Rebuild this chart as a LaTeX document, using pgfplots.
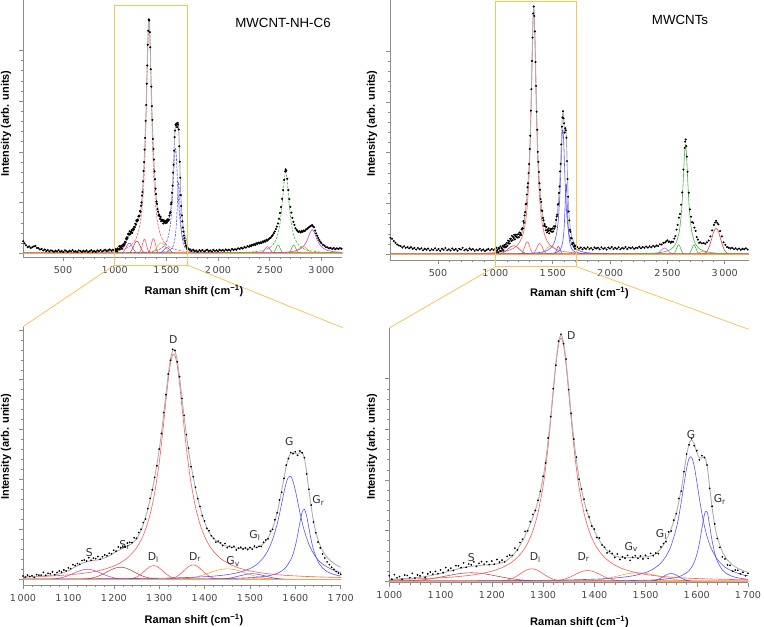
\documentclass[border=0pt]{standalone}
\usepackage{fontspec}
\setmainfont{Liberation Sans}
\newfontfamily\dejavu{DejaVu Sans}
\usepackage{pgfplots}
\usepackage{pgfplotstable}
\pgfplotsset{compat=1.18}

\definecolor{axisc}{RGB}{140,140,140}
\definecolor{tickc}{RGB}{70,70,70}
\definecolor{peakc}{RGB}{50,50,50}
\definecolor{redc}{RGB}{255,90,90}
\definecolor{bluec}{RGB}{85,85,255}
\definecolor{greenc}{RGB}{70,180,70}
\definecolor{orangec}{RGB}{255,165,60}
\definecolor{violetc}{RGB}{185,80,215}
\definecolor{brownc}{RGB}{170,80,80}
\definecolor{magc}{RGB}{230,70,230}
\definecolor{rbrownc}{RGB}{205,70,70}
\definecolor{envc}{RGB}{175,175,175}
\definecolor{yellowc}{RGB}{247,196,90}

\newcommand\tickfont{\dejavu\fontsize{9.6}{11}\selectfont}
\newcommand\peakfont{\dejavu\fontsize{10.8}{12}\selectfont}
\newcommand\labfont{\bfseries\fontsize{11}{13}\selectfont}
\newcommand\titfont{\fontsize{13.3}{15}\selectfont}

% ---------------- MWCNT-NH-C6 : measured spectrum ----------------
\pgfplotstableread[row sep=\\]{x y\\116 5.1\\128 4.2\\143 3.4\\158 2.6\\173 2.9\\188 2.2\\203 2.6\\218 2.9\\233 3.1\\248 2.3\\263 2.1\\278 1.6\\293 1.9\\308 1.2\\323 1.6\\338 1.0\\353 1.4\\368 0.8\\383 1.2\\398 1.0\\413 0.6\\428 1.1\\443 0.8\\458 1.3\\473 0.7\\488 1.0\\503 0.5\\518 1.2\\533 0.9\\548 0.6\\563 1.1\\578 0.8\\593 1.3\\608 0.7\\623 0.9\\638 0.5\\653 1.2\\668 1.0\\683 0.6\\698 1.1\\713 0.8\\728 1.2\\743 0.6\\758 0.9\\773 1.3\\788 0.7\\803 1.0\\818 0.6\\833 1.2\\848 0.9\\863 1.4\\878 0.8\\893 1.1\\908 1.5\\923 0.9\\938 1.3\\953 1.6\\968 1.1\\983 1.5\\995 1.2\\}\tabLdlow

\pgfplotstableread[row sep=\\]{x y\\1000 1.4\\1005 0.9\\1010 1.8\\1015 1.2\\1020 1.5\\1025 0.8\\1030 2.0\\1035 1.8\\1040 1.8\\1045 3.0\\1050 1.7\\1055 2.6\\1060 2.4\\1065 3.2\\1070 1.95\\1075 2.9\\1080 3.6\\1085 3.1\\1090 4.0\\1095 3.6\\1100 4.9\\1105 4.6\\1110 6.3\\1115 5.9\\1120 6.75\\1125 6.45\\1130 8.1\\1135 8.3\\1140 7.9\\1145 9.3\\1150 8.15\\1155 9.1\\1160 8.9\\1165 9.8\\1170 8.6\\1175 9.7\\1180 10.5\\1185 10.1\\1190 11.2\\1195 11.0\\1200 12.5\\1205 12.1\\1210 13.9\\1215 13.5\\1220 14.25\\1225 13.9\\1230 15.6\\1235 15.9\\1240 15.8\\1245 17.9\\1250 17.6\\1255 20.1\\1260 21.5\\1265 24.4\\1270 25.9\\1275 30.4\\1280 34.8\\1285 38.5\\1290 43.8\\1295 48.8\\1300 56.0\\1305 62.7\\1310 71.7\\1315 79.4\\1320 88.2\\1325 94.1\\1330 98.9\\1335 98.4\\1340 93.5\\1345 87.1\\1350 77.8\\1355 70.5\\1360 62.2\\1365 56.4\\1370 48.4\\1375 44.1\\1380 39.6\\1385 34.7\\1390 31.3\\1395 27.3\\1400 25.1\\1405 21.9\\1410 20.9\\1415 18.7\\1420 17.6\\1425 16.0\\1430 16.4\\1435 15.7\\1440 14.5\\1445 15.4\\1450 13.6\\1455 14.2\\1460 13.7\\1465 14.2\\1470 12.6\\1475 13.4\\1480 13.8\\1485 13.0\\1490 13.5\\1495 12.8\\1500 13.7\\1505 12.95\\1510 14.3\\1515 13.65\\1520 14.2\\1525 14.1\\1530 15.9\\1535 16.9\\1540 17.4\\1545 20.7\\1550 21.45\\1555 25.6\\1560 28.6\\1565 34.1\\1570 37.4\\1575 43.4\\1580 49.1\\1585 51.9\\1590 54.5\\1595 54.0\\1600 54.85\\1605 53.3\\1610 55.15\\1615 54.4\\1620 52.3\\1625 45.3\\1630 38.7\\1635 31.9\\1640 24.6\\1645 20.0\\1650 16.0\\1655 13.5\\1660 10.9\\1665 9.2\\1670 7.5\\1675 6.3\\1680 5.2\\1685 4.3\\1690 3.3\\1695 2.7\\1700 2.2\\}\tabLdmid

\pgfplotstableread[row sep=\\]{x y\\1715 1.9\\1730 1.4\\1745 1.0\\1760 1.5\\1775 0.9\\1790 1.2\\1805 0.7\\1820 1.3\\1835 1.0\\1850 1.4\\1865 0.8\\1880 1.1\\1895 1.5\\1910 0.9\\1925 1.2\\1940 0.8\\1955 1.4\\1970 1.0\\1985 1.3\\2000 0.9\\2015 1.5\\2030 1.1\\2045 1.4\\2060 1.0\\2075 1.6\\2090 1.2\\2105 1.5\\2120 1.1\\2135 1.8\\2150 1.4\\2165 1.7\\2180 1.5\\2195 2.1\\2210 1.8\\2225 2.3\\2240 2.0\\2255 2.6\\2270 2.4\\2285 3.0\\2300 2.8\\2310 3.3\\2320 3.0\\2330 3.6\\2340 3.4\\2350 3.9\\2360 3.5\\2370 4.2\\2380 3.9\\2390 4.5\\2400 4.2\\2410 4.6\\2420 4.3\\2430 5.0\\2440 4.7\\2450 5.3\\2460 5.0\\2470 5.7\\2480 5.4\\2490 6.0\\2500 6.3\\2510 6.6\\2520 7.2\\2530 7.7\\2540 8.5\\2550 9.2\\2560 10.2\\2570 11.3\\2580 12.6\\2590 14.6\\2600 17.0\\2610 19.6\\2620 23.0\\2630 26.7\\2640 31.0\\2650 34.6\\2655 35.5\\2660 34.9\\2670 31.5\\2680 26.8\\2690 22.9\\2700 19.6\\2710 17.2\\2720 15.0\\2730 13.3\\2740 12.0\\2750 10.6\\2760 9.9\\2770 9.4\\2780 9.0\\2790 9.3\\2800 8.8\\2810 9.4\\2820 9.1\\2830 9.6\\2840 9.4\\2850 10.0\\2860 10.2\\2870 10.6\\2880 11.0\\2890 11.3\\2900 11.6\\2910 11.9\\2920 11.4\\2930 11.0\\2940 9.6\\2950 8.4\\2960 7.4\\2970 6.5\\2980 5.6\\2990 4.9\\3000 4.3\\3015 3.6\\3030 3.2\\3045 2.6\\3060 2.5\\3075 2.1\\3090 2.3\\3105 1.8\\3120 2.2\\3135 1.7\\3150 2.1\\3165 1.8\\3180 2.2\\3195 1.9\\}\tabLdhigh

% fitted envelope, 1000-1700
\pgfplotstableread[row sep=\\]{x y\\1000 1.09\\1010 1.16\\1020 1.22\\1030 1.30\\1040 1.38\\1050 1.52\\1060 1.69\\1070 1.95\\1080 2.32\\1090 2.91\\1100 3.74\\1110 4.79\\1120 5.85\\1130 6.84\\1140 7.52\\1150 7.95\\1160 8.21\\1170 8.57\\1180 9.19\\1190 10.08\\1200 11.27\\1210 12.36\\1220 13.35\\1230 14.27\\1240 15.37\\1250 17.44\\1260 21.05\\1270 26.71\\1280 34.27\\1290 43.54\\1300 55.62\\1305 62.7\\1310 71.06\\1315 79.6\\1320 88.1\\1325 94.79\\1330 98.4\\1335 98.12\\1340 93.87\\1345 86.8\\1350 78.38\\1355 69.9\\1360 62.29\\1365 55.0\\1370 49.23\\1380 39.08\\1390 31.03\\1400 24.7\\1410 20.22\\1420 17.53\\1430 15.88\\1440 14.91\\1450 14.22\\1460 13.77\\1470 13.43\\1480 13.29\\1490 13.24\\1500 13.33\\1510 13.56\\1520 14.14\\1530 15.4\\1540 17.83\\1550 22.05\\1560 28.71\\1570 38.19\\1580 48.57\\1585 52.24\\1590 54.16\\1595 54.47\\1600 54.05\\1605 53.8\\1610 54.45\\1615 54.6\\1620 52.16\\1625 46.0\\1630 38.17\\1640 25.0\\1650 17.06\\1660 12.42\\1670 9.5\\1680 7.55\\1690 6.18\\1700 5.16\\}\tabLenv

% fitted bands
\pgfplotstableread[row sep=\\]{x y\\0 0.06\\113 0.071\\300 0.099\\500 0.152\\700 0.264\\800 0.372\\900 0.563\\950 0.719\\1000 0.95\\1020 1.07\\1040 1.22\\1060 1.41\\1080 1.64\\1100 1.92\\1120 2.29\\1140 2.78\\1160 3.44\\1180 4.37\\1200 5.71\\1210 6.60\\1220 7.75\\1230 9.18\\1240 11.06\\1250 13.5\\1260 16.8\\1270 21.4\\1280 27.9\\1290 37.0\\1300 50.0\\1305 58.1\\1310 67.2\\1315 76.7\\1320 85.7\\1325 92.8\\1330 96.6\\1335 96.2\\1340 91.6\\1345 84.0\\1350 74.7\\1355 65.3\\1360 56.4\\1365 48.5\\1370 41.7\\1380 31.1\\1390 23.7\\1400 18.5\\1410 14.7\\1420 12.0\\1430 9.88\\1440 8.29\\1460 6.06\\1480 4.60\\1500 3.61\\1520 2.90\\1540 2.38\\1560 1.99\\1580 1.69\\1600 1.45\\1640 1.10\\1700 0.77\\1750 0.60\\1800 0.48\\1900 0.33\\2000 0.237\\2200 0.14\\2500 0.077\\2800 0.049\\3300 0.03\\}\tabLD
\pgfplotstableread[row sep=\\]{x y\\0 0.015\\113 0.018\\500 0.034\\800 0.064\\1000 0.115\\1100 0.167\\1200 0.26\\1300 0.477\\1350 0.694\\1400 1.10\\1420 1.37\\1440 1.75\\1460 2.31\\1480 3.18\\1500 4.62\\1510 5.72\\1520 7.23\\1530 9.37\\1540 12.5\\1550 17.1\\1560 23.7\\1565 27.96\\1570 32.6\\1575 37.4\\1580 41.5\\1585 44.0\\1590 44.2\\1595 42.1\\1600 38.3\\1605 33.6\\1610 28.9\\1615 24.5\\1620 20.8\\1630 15.0\\1640 11.1\\1650 8.42\\1660 6.57\\1680 4.27\\1700 2.97\\1750 1.47\\1800 0.87\\1900 0.41\\2100 0.15\\2500 0.048\\3300 0.014\\}\tabLG
\pgfplotstableread[row sep=\\]{x y\\0 0\\1000 0.026\\1200 0.056\\1300 0.096\\1400 0.20\\1450 0.34\\1500 0.68\\1520 0.97\\1540 1.49\\1550 1.92\\1560 2.57\\1570 3.59\\1580 5.31\\1590 8.40\\1595 10.87\\1600 14.3\\1605 18.8\\1610 24.2\\1615 28.8\\1620 30.1\\1625 27.2\\1630 22.0\\1635 16.9\\1640 12.8\\1650 7.61\\1660 4.88\\1670 3.34\\1680 2.42\\1700 1.42\\1750 0.56\\1800 0.30\\2000 0.067\\3300 0\\}\tabLGr
\pgfplotstableread[row sep=\\]{x y\\0 0\\1030 0\\1052 0.05\\1062 0.12\\1072 0.28\\1082 0.58\\1092 1.07\\1102 1.77\\1112 2.61\\1122 3.44\\1132 4.07\\1142 4.3\\1152 4.07\\1162 3.44\\1172 2.61\\1182 1.77\\1192 1.07\\1202 0.58\\1212 0.28\\1222 0.12\\1232 0.05\\1254 0\\3300 0\\}\tabLS
\pgfplotstableread[row sep=\\]{x y\\0 0\\1105 0\\1125 0.06\\1135 0.15\\1145 0.34\\1155 0.70\\1165 1.29\\1175 2.14\\1185 3.16\\1195 4.17\\1205 4.92\\1215 5.2\\1225 4.92\\1235 4.17\\1245 3.16\\1255 2.14\\1265 1.29\\1275 0.70\\1285 0.34\\1295 0.15\\1305 0.06\\1325 0\\3300 0\\}\tabLSr
\pgfplotstableread[row sep=\\]{x y\\0 0\\1218 0\\1228 0.07\\1238 0.26\\1248 0.80\\1253 1.28\\1258 1.92\\1263 2.70\\1268 3.58\\1273 4.45\\1278 5.2\\1283 5.72\\1288 5.9\\1293 5.72\\1298 5.2\\1303 4.45\\1308 3.58\\1313 2.70\\1318 1.92\\1323 1.28\\1328 0.80\\1338 0.26\\1348 0.07\\1358 0\\3300 0\\}\tabLDl
\pgfplotstableread[row sep=\\]{x y\\0 0\\1305 0\\1315 0.07\\1325 0.27\\1335 0.84\\1340 1.34\\1345 2.02\\1350 2.84\\1355 3.76\\1360 4.68\\1365 5.47\\1370 6.0\\1375 6.2\\1380 6.0\\1385 5.47\\1390 4.68\\1395 3.76\\1400 2.84\\1405 2.02\\1410 1.34\\1415 0.84\\1425 0.27\\1435 0.07\\1445 0\\3300 0\\}\tabLDr
\pgfplotstableread[row sep=\\]{x y\\0 0\\1330 0\\1350 0.2\\1360 0.36\\1370 0.61\\1380 0.97\\1390 1.46\\1400 2.06\\1410 2.73\\1420 3.40\\1430 3.97\\1440 4.36\\1450 4.5\\1460 4.36\\1470 3.97\\1480 3.40\\1490 2.73\\1500 2.06\\1510 1.46\\1520 0.97\\1530 0.61\\1540 0.36\\1550 0.2\\1570 0\\3300 0\\}\tabLGv
\pgfplotstableread[row sep=\\]{x y\\0 0\\1420 0\\1435 0.10\\1445 0.24\\1455 0.49\\1465 0.87\\1475 1.35\\1485 1.86\\1495 2.25\\1505 2.4\\1515 2.25\\1525 1.86\\1535 1.35\\1545 0.87\\1555 0.49\\1565 0.24\\1575 0.10\\1590 0\\3300 0\\}\tabLGl
\pgfplotstableread[row sep=\\]{x y\\0 0.01\\1000 0.02\\1500 0.045\\2000 0.14\\2200 0.29\\2300 0.47\\2400 0.91\\2450 1.38\\2500 2.35\\2530 3.48\\2560 5.61\\2580 8.19\\2600 12.63\\2610 15.97\\2620 20.24\\2630 25.33\\2640 30.42\\2650 33.82\\2655 34.3\\2660 33.82\\2670 30.42\\2680 25.33\\2690 20.24\\2700 15.97\\2710 12.63\\2730 8.19\\2750 5.61\\2780 3.48\\2810 2.35\\2860 1.38\\2910 0.91\\3010 0.47\\3110 0.29\\3300 0.18\\}\tabLTwo
\pgfplotstableread[row sep=\\]{x y\\0 0\\2520 0\\2531 0.15\\2541 0.47\\2551 1.14\\2561 2.12\\2571 3.09\\2581 3.5\\2591 3.09\\2601 2.12\\2611 1.14\\2621 0.47\\2631 0.15\\2645 0\\3300 0\\}\tabLgA
\pgfplotstableread[row sep=\\]{x y\\0 0\\2672 0\\2683 0.15\\2693 0.47\\2703 1.14\\2713 2.12\\2723 3.09\\2733 3.5\\2743 3.09\\2753 2.12\\2763 1.14\\2773 0.47\\2783 0.15\\2795 0\\3300 0\\}\tabLgB
\pgfplotstableread[row sep=\\]{x y\\0 0\\2395 0\\2403 0.03\\2415.5 0.12\\2428 0.38\\2440.5 0.91\\2453 1.70\\2465.5 2.47\\2478 2.8\\2490.5 2.47\\2503 1.70\\2515.5 0.91\\2528 0.38\\2540.5 0.12\\2553 0.03\\2565 0\\3300 0\\}\tabLm
\pgfplotstableread[row sep=\\]{x y\\0 0\\2690 0\\2700 0.03\\2720 0.13\\2740 0.41\\2760 0.97\\2780 1.82\\2800 2.65\\2820 3\\2840 2.65\\2860 1.82\\2880 0.97\\2900 0.41\\2920 0.13\\2940 0.03\\2950 0\\3300 0\\}\tabLo
\pgfplotstableread[row sep=\\]{x y\\0 0\\2400 0.1\\2500 0.17\\2600 0.30\\2700 0.63\\2750 1.03\\2800 1.94\\2830 3.10\\2850 4.40\\2870 6.32\\2890 8.62\\2912 10\\2930 9.03\\2950 6.77\\2970 4.73\\3000 2.81\\3050 1.37\\3100 0.79\\3200 0.35\\3300 0.2\\}\tabLp

% ---------------- MWCNTs : measured spectrum ----------------
\pgfplotstableread[row sep=\\]{x y\\86 6.6\\100 6.2\\115 5.3\\130 4.6\\145 3.9\\160 3.5\\175 3.3\\190 2.7\\205 3.2\\220 2.6\\235 2.9\\250 2.4\\265 2.8\\280 2.2\\295 2.6\\310 1.9\\325 2.5\\340 2.0\\355 2.4\\370 1.6\\385 2.2\\400 1.8\\415 2.3\\430 1.5\\445 2.0\\460 1.7\\475 2.4\\490 1.6\\505 2.1\\520 1.4\\535 2.2\\550 1.8\\565 2.5\\580 1.6\\595 2.0\\610 1.5\\625 2.3\\640 1.7\\655 2.1\\670 1.4\\685 2.2\\700 1.9\\715 2.6\\730 1.6\\745 2.0\\760 1.5\\775 2.3\\790 1.8\\805 2.1\\820 1.4\\835 1.9\\850 1.6\\865 2.2\\880 1.5\\895 1.9\\910 1.3\\925 1.8\\940 2.2\\955 1.6\\970 2.1\\985 1.7\\}\tabRdlow

\pgfplotstableread[row sep=\\]{x y\\1000 2.2\\1005 0.8\\1010 2.65\\1015 1.4\\1020 1.9\\1025 0.8\\1030 2.5\\1035 2.3\\1040 1.4\\1045 3.15\\1050 1.25\\1055 2.55\\1060 2.15\\1065 3.4\\1070 1.55\\1075 2.95\\1080 3.7\\1085 2.85\\1090 3.95\\1095 3.0\\1100 4.55\\1105 3.4\\1110 5.5\\1115 4.45\\1120 5.25\\1125 4.3\\1130 6.25\\1135 6.2\\1140 5.45\\1145 7.4\\1150 5.6\\1155 6.95\\1160 6.6\\1165 7.8\\1170 5.95\\1175 7.25\\1180 7.9\\1185 6.9\\1190 7.85\\1195 6.7\\1200 8.1\\1205 6.85\\1210 8.75\\1215 7.7\\1220 8.5\\1225 7.8\\1230 10.0\\1235 10.5\\1240 10.35\\1245 13.3\\1250 12.6\\1255 15.6\\1260 16.9\\1265 20.1\\1270 20.3\\1275 24.0\\1280 26.9\\1285 28.5\\1290 32.6\\1295 36.2\\1300 42.25\\1305 47.6\\1310 57.7\\1315 66.3\\1320 77.6\\1325 87.0\\1330 96.7\\1335 99.5\\1340 95.7\\1345 89.5\\1350 77.2\\1355 67.6\\1360 57.25\\1365 50.0\\1370 41.1\\1375 37.1\\1380 33.05\\1385 28.5\\1390 25.9\\1395 22.2\\1400 21.0\\1405 17.6\\1410 17.4\\1415 14.6\\1420 13.65\\1425 11.4\\1430 12.1\\1435 11.2\\1440 9.6\\1445 11.0\\1450 8.75\\1455 9.85\\1460 9.3\\1465 10.4\\1470 8.4\\1475 9.6\\1480 10.25\\1485 9.2\\1490 10.15\\1495 9.0\\1500 10.4\\1505 9.2\\1510 11.2\\1515 10.3\\1520 11.3\\1525 11.1\\1530 13.8\\1535 15.2\\1540 15.9\\1545 19.9\\1550 20.2\\1555 24.6\\1560 27.2\\1565 33.3\\1570 36.3\\1575 44.1\\1580 51.25\\1585 54.95\\1590 57.45\\1595 54.6\\1600 52.6\\1605 48.9\\1610 50.6\\1615 49.8\\1620 46.8\\1625 37.4\\1630 30.2\\1635 23.1\\1640 17.2\\1645 13.6\\1650 9.8\\1655 9.0\\1660 6.6\\1665 6.4\\1670 4.0\\1675 4.5\\1680 4.4\\1685 3.05\\1690 3.6\\1695 2.2\\1700 3.2\\}\tabRdmid

\pgfplotstableread[row sep=\\]{x y\\1715 2.9\\1730 2.3\\1745 2.7\\1760 2.0\\1775 2.6\\1790 2.2\\1805 2.8\\1820 2.1\\1835 2.5\\1850 1.9\\1865 2.7\\1880 2.3\\1895 2.6\\1910 2.0\\1925 2.8\\1940 2.2\\1955 2.5\\1970 1.9\\1985 2.7\\2000 2.3\\2015 2.9\\2030 2.1\\2045 2.6\\2060 2.2\\2075 2.8\\2090 2.0\\2105 2.5\\2120 2.3\\2135 2.9\\2150 2.1\\2165 2.7\\2180 2.4\\2195 2.8\\2210 2.2\\2225 2.6\\2240 2.5\\2255 3.0\\2270 2.4\\2285 2.9\\2300 2.6\\2315 3.1\\2330 2.7\\2345 3.2\\2360 2.8\\2375 3.4\\2390 3.0\\2405 3.5\\2420 3.3\\2435 4.0\\2450 3.9\\2465 4.6\\2480 4.7\\2490 5.2\\2500 5.6\\2510 5.0\\2520 5.1\\2530 4.6\\2540 5.1\\2550 5.0\\2560 6.3\\2570 7.3\\2580 9.9\\2590 11.8\\2600 14.7\\2610 16.2\\2620 19.9\\2630 24.8\\2640 34.0\\2650 42.7\\2655 45.2\\2660 46.1\\2665 43.4\\2670 39.2\\2676 33.1\\2686 24.7\\2696 18.0\\2706 15.1\\2716 12.9\\2726 12.6\\2736 10.7\\2746 9.4\\2756 6.9\\2766 5.9\\2776 4.6\\2786 4.8\\2800 4.4\\2816 4.5\\2830 4.2\\2845 4.8\\2860 5.5\\2875 7.2\\2890 9.6\\2905 11.8\\2915 12.7\\2925 13.4\\2935 12.6\\2945 12.0\\2960 9.3\\2975 7.2\\2990 4.8\\3005 3.8\\3020 2.9\\3035 2.6\\3050 2.3\\3065 2.6\\3080 2.1\\3095 2.4\\3110 1.9\\3125 2.3\\3140 1.8\\3155 2.2\\3170 2.0\\3185 2.4\\3200 1.9\\}\tabRdhigh

\pgfplotstableread[row sep=\\]{x y\\1000 0.78\\1010 0.85\\1020 0.93\\1030 1.03\\1040 1.17\\1050 1.34\\1060 1.56\\1070 1.86\\1080 2.23\\1090 2.65\\1100 3.15\\1110 3.68\\1120 4.23\\1130 4.77\\1140 5.27\\1150 5.68\\1160 6.02\\1170 6.24\\1180 6.42\\1190 6.54\\1200 6.70\\1210 6.96\\1220 7.49\\1230 8.47\\1240 10.14\\1250 12.73\\1260 16.29\\1270 20.59\\1280 25.66\\1290 32.13\\1300 41.65\\1305 48.36\\1310 56.69\\1315 66.57\\1320 77.42\\1325 88.0\\1330 96.02\\1335 99.1\\1340 96.26\\1345 88.44\\1350 78.08\\1355 67.33\\1360 57.45\\1365 49.09\\1370 42.21\\1380 32.35\\1390 25.41\\1400 20.39\\1410 16.43\\1420 13.45\\1430 11.41\\1440 10.23\\1450 9.65\\1460 9.47\\1470 9.48\\1480 9.55\\1490 9.65\\1500 9.79\\1510 10.16\\1520 11.06\\1530 13.11\\1540 16.53\\1550 21.13\\1560 27.41\\1570 37.41\\1575 43.96\\1580 50.55\\1585 55.36\\1590 56.95\\1595 55.26\\1600 51.98\\1605 49.72\\1610 49.59\\1615 50.13\\1620 46.64\\1625 38.37\\1630 29.54\\1635 22.65\\1640 17.78\\1650 11.86\\1660 8.57\\1670 6.56\\1680 5.21\\1690 4.28\\1700 3.57\\}\tabRenv

\pgfplotstableread[row sep=\\]{x y\\0 0.045\\85 0.049\\300 0.072\\500 0.11\\700 0.19\\800 0.27\\900 0.40\\950 0.52\\1000 0.68\\1020 0.77\\1040 0.875\\1060 1.0\\1080 1.17\\1100 1.37\\1120 1.63\\1140 1.98\\1160 2.45\\1180 3.10\\1200 4.04\\1210 4.68\\1220 5.48\\1230 6.51\\1240 7.83\\1250 9.59\\1260 11.99\\1270 15.34\\1280 20.2\\1290 27.4\\1300 38.2\\1305 45.6\\1310 54.5\\1315 64.9\\1320 76.1\\1325 86.9\\1330 95.0\\1335 98\\1340 95.0\\1345 86.9\\1350 76.1\\1355 64.9\\1360 54.5\\1365 45.6\\1370 38.2\\1380 27.4\\1390 20.2\\1400 15.34\\1410 11.99\\1420 9.59\\1430 7.83\\1440 6.51\\1450 5.48\\1460 4.68\\1480 3.52\\1500 2.74\\1520 2.19\\1540 1.79\\1560 1.49\\1580 1.26\\1600 1.08\\1640 0.82\\1700 0.57\\1800 0.354\\2000 0.173\\2300 0.082\\2700 0.041\\3300 0.02\\}\tabRD
\pgfplotstableread[row sep=\\]{x y\\0 0.012\\85 0.013\\500 0.024\\800 0.047\\1000 0.084\\1100 0.121\\1200 0.19\\1300 0.35\\1350 0.51\\1400 0.81\\1420 1.01\\1440 1.29\\1460 1.71\\1480 2.37\\1500 3.48\\1510 4.35\\1520 5.57\\1530 7.35\\1540 10.06\\1550 14.34\\1560 21.3\\1565 26.2\\1570 32.2\\1575 38.9\\1580 45.3\\1585 49.5\\1590 49.95\\1595 46.4\\1600 40.2\\1605 33.5\\1610 27.3\\1615 22.2\\1620 18.1\\1625 14.9\\1630 12.4\\1640 8.83\\1650 6.56\\1660 5.03\\1680 3.2\\1700 2.2\\1750 1.08\\1800 0.64\\1900 0.30\\2100 0.11\\2500 0.035\\3300 0.01\\}\tabRG
\pgfplotstableread[row sep=\\]{x y\\0 0\\1000 0.014\\1300 0.055\\1400 0.116\\1450 0.19\\1500 0.39\\1520 0.56\\1540 0.88\\1550 1.15\\1560 1.55\\1570 2.21\\1580 3.37\\1585 4.30\\1590 5.64\\1595 7.62\\1600 10.63\\1605 15.14\\1610 21.26\\1615 26.96\\1618 28.2\\1621 27.4\\1625 22.56\\1630 16.26\\1635 11.4\\1640 8.13\\1650 4.53\\1660 2.82\\1670 1.91\\1680 1.37\\1700 0.80\\1750 0.31\\1800 0.17\\2000 0.038\\3300 0\\}\tabRGr
\pgfplotstableread[row sep=\\]{x y\\0 0\\980 0\\1000 0.02\\1010 0.04\\1020 0.07\\1030 0.12\\1040 0.19\\1050 0.30\\1060 0.46\\1070 0.67\\1080 0.95\\1090 1.28\\1100 1.66\\1110 2.06\\1120 2.47\\1130 2.84\\1140 3.14\\1150 3.33\\1160 3.4\\1170 3.33\\1180 3.14\\1190 2.84\\1200 2.47\\1210 2.06\\1220 1.66\\1230 1.28\\1240 0.95\\1250 0.67\\1260 0.46\\1270 0.30\\1280 0.19\\1290 0.12\\1300 0.07\\1310 0.04\\1320 0.02\\1340 0\\3300 0\\}\tabRS
\pgfplotstableread[row sep=\\]{x y\\0 0\\1200 0\\1213 0.03\\1218 0.12\\1228 0.38\\1233 0.62\\1238 0.96\\1243 1.41\\1248 1.97\\1253 2.62\\1258 3.31\\1263 3.96\\1268 4.51\\1273 4.87\\1278 5.0\\1283 4.87\\1288 4.51\\1293 3.96\\1298 3.31\\1303 2.62\\1308 1.97\\1313 1.41\\1318 0.96\\1323 0.62\\1328 0.38\\1338 0.12\\1343 0.03\\1356 0\\3300 0\\}\tabRDl
\pgfplotstableread[row sep=\\]{x y\\0 0\\1300 0\\1307 0.03\\1317 0.09\\1327 0.24\\1337 0.58\\1347 1.19\\1352 1.61\\1357 2.09\\1362 2.61\\1367 3.12\\1372 3.59\\1377 3.97\\1382 4.21\\1387 4.3\\1392 4.21\\1397 3.97\\1402 3.59\\1407 3.12\\1412 2.61\\1417 2.09\\1422 1.61\\1427 1.19\\1437 0.58\\1447 0.24\\1457 0.09\\1467 0.03\\1475 0\\3300 0\\}\tabRDr
\pgfplotstableread[row sep=\\]{x y\\0 0\\1365 0\\1385 0.15\\1395 0.27\\1405 0.46\\1415 0.73\\1425 1.11\\1435 1.56\\1445 2.06\\1455 2.57\\1465 3.0\\1475 3.29\\1485 3.4\\1495 3.29\\1505 3.0\\1515 2.57\\1525 2.06\\1535 1.56\\1545 1.11\\1555 0.73\\1565 0.46\\1575 0.27\\1585 0.15\\1605 0\\3300 0\\}\tabRGv
\pgfplotstableread[row sep=\\]{x y\\0 0\\1500 0\\1510 0.09\\1520 0.42\\1525 0.77\\1530 1.27\\1535 1.88\\1540 2.48\\1545 2.93\\1550 3.1\\1555 2.93\\1560 2.48\\1565 1.88\\1570 1.27\\1575 0.77\\1580 0.42\\1590 0.09\\1600 0\\3300 0\\}\tabRGl
\pgfplotstableread[row sep=\\]{x y\\0 0.01\\1000 0.013\\1500 0.03\\2000 0.08\\2200 0.164\\2300 0.27\\2400 0.51\\2450 0.78\\2500 1.34\\2530 2.01\\2560 3.32\\2580 5.02\\2600 8.32\\2610 11.17\\2620 15.48\\2630 22.0\\2640 31.13\\2650 40.68\\2658 44\\2666 40.68\\2676 31.13\\2686 22.0\\2696 15.48\\2706 11.17\\2716 8.32\\2736 5.02\\2756 3.32\\2786 2.01\\2816 1.34\\2866 0.78\\2916 0.51\\3016 0.27\\3116 0.164\\3300 0.1\\}\tabRTwo
\pgfplotstableread[row sep=\\]{x y\\0 0\\2535 0\\2544 0.04\\2553 0.17\\2562 0.51\\2571 1.23\\2580 2.31\\2589 3.35\\2598 3.8\\2607 3.35\\2616 2.31\\2625 1.23\\2634 0.51\\2643 0.17\\2652 0.04\\2662 0\\3300 0\\}\tabRgA
\pgfplotstableread[row sep=\\]{x y\\0 0\\2669 0\\2678 0.04\\2687 0.17\\2696 0.51\\2705 1.23\\2714 2.31\\2723 3.35\\2732 3.8\\2741 3.35\\2750 2.31\\2759 1.23\\2768 0.51\\2777 0.17\\2786 0.04\\2796 0\\3300 0\\}\tabRgB
\pgfplotstableread[row sep=\\]{x y\\0 0\\2380 0\\2385 0.03\\2400 0.11\\2415 0.34\\2430 0.81\\2445 1.52\\2460 2.2\\2475 2.5\\2490 2.2\\2505 1.52\\2520 0.81\\2535 0.34\\2550 0.11\\2565 0.03\\2575 0\\3300 0\\}\tabRm
\pgfplotstableread[row sep=\\]{x y\\0 0\\2725 0\\2737 0.05\\2752 0.16\\2767 0.39\\2782 0.73\\2797 1.06\\2812 1.2\\2827 1.06\\2842 0.73\\2857 0.39\\2872 0.16\\2887 0.05\\2900 0\\3300 0\\}\tabRo
\pgfplotstableread[row sep=\\]{x y\\0 0\\2780 0\\2792 0.02\\2811 0.12\\2830 0.46\\2849 1.42\\2868 3.41\\2887 6.37\\2906 9.26\\2925 10.5\\2944 9.26\\2963 6.37\\2982 3.41\\3001 1.42\\3020 0.46\\3039 0.12\\3058 0.02\\3070 0\\3300 0\\}\tabRr

\pgfplotsset{
  panel/.style={
    scale only axis, anchor=south west,
    axis lines=left,
    axis line style={-, draw=axisc, line width=0.6pt},
    tick align=outside,
    major tick length=4pt, minor tick length=2.2pt,
    tick style={draw=axisc, line width=0.5pt},
    minor x tick num=4, minor y tick num=4,
    yticklabels={},
    yticklabel style={opacity=0},
    xticklabel style={font=\tickfont, text=tickc, yshift=-1.5pt},
  },
  comp/.style={no markers, smooth, tension=0.5, line width=0.6pt},
  env/.style={no markers, smooth, tension=0.5, line width=0.9pt, color=envc},
  dots/.style={only marks, mark=*, mark size=#1, mark options={draw=none, fill=black}},
  dsh/.style={dash pattern=on 2.5pt off 1.2pt},
}

\begin{document}
\begin{tikzpicture}[x=1pt,y=1pt]
\useasboundingbox (0pt,0pt) rectangle (764pt,627pt);

% ---------- top left: MWCNT-NH-C6, full range ----------
\begin{axis}[panel, at={(23pt,369.7pt)}, width=319pt, height=257.3pt,
  xmin=113, xmax=3200, ymin=-1.7, ymax=107.1,
  xtick={500,1000,1500,2000,2500,3000},
  xticklabels={500,1\thinspace000,1\thinspace500,2\thinspace000,2\thinspace500,3\thinspace000},
  ytick={0,21.45,42.9,64.35,85.8}]
  \addplot[comp, violetc] table {\tabLS};
  \addplot[comp, brownc] table {\tabLSr};
  \addplot[comp, redc] table {\tabLDl};
  \addplot[comp, redc] table {\tabLDr};
  \addplot[comp, orangec] table {\tabLGv};
  \addplot[comp, bluec] table {\tabLGl};
  \addplot[comp, magc] table {\tabLm};
  \addplot[comp, greenc] table {\tabLgA};
  \addplot[comp, greenc] table {\tabLgB};
  \addplot[comp, orangec] table {\tabLo};
  \addplot[comp, violetc] table {\tabLp};
  \addplot[comp, redc, dsh] table {\tabLD};
  \addplot[comp, bluec, dsh] table {\tabLG};
  \addplot[comp, bluec, dsh] table {\tabLGr};
  \addplot[comp, greenc, dsh] table {\tabLTwo};
  \addplot[comp, orangec] coordinates {(0,0) (3300,0)};
  \addplot[env] table {\tabLenv};
  \addplot[dots=0.85pt] table {\tabLdlow};
  \addplot[dots=0.85pt] table {\tabLdmid};
  \addplot[dots=0.85pt] table {\tabLdhigh};
\end{axis}

% ---------- top right: MWCNTs, full range ----------
\begin{axis}[panel, at={(390pt,367pt)}, width=358.7pt, height=260pt,
  xmin=82, xmax=3209, ymin=-2.3, ymax=102.1,
  xtick={500,1000,1500,2000,2500,3000},
  xticklabels={500,1\thinspace000,1\thinspace500,2\thinspace000,2\thinspace500,3\thinspace000},
  ytick={0,20.4,40.8,61.2,81.6}]
  \addplot[comp, brownc] table {\tabRS};
  \addplot[comp, redc] table {\tabRDl};
  \addplot[comp, redc] table {\tabRDr};
  \addplot[comp, orangec] table {\tabRGv};
  \addplot[comp, bluec] table {\tabRGl};
  \addplot[comp, magc] table {\tabRm};
  \addplot[comp, greenc] table {\tabRgA};
  \addplot[comp, greenc] table {\tabRgB};
  \addplot[comp, orangec] table {\tabRo};
  \addplot[comp, rbrownc] table {\tabRr};
  \addplot[comp, redc] table {\tabRD};
  \addplot[comp, bluec] table {\tabRG};
  \addplot[comp, bluec] table {\tabRGr};
  \addplot[comp, greenc] table {\tabRTwo};
  \addplot[comp, orangec] coordinates {(0,0) (3300,0)};
  \addplot[env] table {\tabRenv};
  \addplot[dots=0.8pt] table {\tabRdlow};
  \addplot[dots=0.8pt] table {\tabRdmid};
  \addplot[dots=0.8pt] table {\tabRdhigh};
\end{axis}

% ---------- bottom left: MWCNT-NH-C6, 1000-1700 ----------
\begin{axis}[panel, at={(23pt,42pt)}, width=317.7pt, height=258.3pt,
  xmin=1000, xmax=1700, ymin=-2.45, ymax=108.6,
  xtick={1000,1100,...,1700},
  xticklabels={1\thinspace000,1\thinspace100,1\thinspace200,1\thinspace300,1\thinspace400,1\thinspace500,1\thinspace600,1\thinspace700},
  ytick={0,21.45,42.9,64.35,85.8,107.25}]
  \addplot[comp, violetc] table {\tabLS};
  \addplot[comp, brownc] table {\tabLSr};
  \addplot[comp, redc] table {\tabLDl};
  \addplot[comp, redc] table {\tabLDr};
  \addplot[comp, orangec] table {\tabLGv};
  \addplot[comp, bluec] table {\tabLGl};
  \addplot[comp, bluec] table {\tabLG};
  \addplot[comp, bluec] table {\tabLGr};
  \addplot[comp, redc] table {\tabLD};
  \addplot[comp, orangec] coordinates {(0,0) (3300,0)};
  \addplot[env] table {\tabLenv};
  \addplot[dots=0.65pt] table {\tabLdmid};
  \begin{scope}[font=\peakfont, text=peakc]
    \node at (axis cs:1331,103) {D};
    \node at (axis cs:1146,11.6) {S};
    \node at (axis cs:1224,14.8) {S\textsubscript{r}};
    \node at (axis cs:1287,9.5) {D\textsubscript{l}};
    \node at (axis cs:1379,9.5) {D\textsubscript{r}};
    \node at (axis cs:1463,7.6) {G\textsubscript{v}};
    \node at (axis cs:1511,19) {G\textsubscript{l}};
    \node at (axis cs:1587,59) {G};
    \node at (axis cs:1651,34) {G\textsubscript{r}};
  \end{scope}
\end{axis}

% ---------- bottom right: MWCNTs, 1000-1700 ----------
\begin{axis}[panel, at={(389.3pt,44.3pt)}, width=358.7pt, height=254.4pt,
  xmin=1000, xmax=1700, ymin=-0.6, ymax=101.9,
  xtick={1000,1100,...,1700},
  xticklabels={1\thinspace000,1\thinspace100,1\thinspace200,1\thinspace300,1\thinspace400,1\thinspace500,1\thinspace600,1\thinspace700},
  ytick={0,20.4,40.8,61.2,81.6}]
  \addplot[comp, brownc] table {\tabRS};
  \addplot[comp, redc] table {\tabRDl};
  \addplot[comp, redc] table {\tabRDr};
  \addplot[comp, orangec] table {\tabRGv};
  \addplot[comp, bluec] table {\tabRGl};
  \addplot[comp, bluec] table {\tabRG};
  \addplot[comp, bluec] table {\tabRGr};
  \addplot[comp, redc] table {\tabRD};
  \addplot[comp, orangec] coordinates {(0,0) (3300,0)};
  \addplot[env] table {\tabRenv};
  \addplot[dots=0.65pt] table {\tabRdmid};
  \begin{scope}[font=\peakfont, text=peakc]
    \node at (axis cs:1355,99) {D};
    \node at (axis cs:1160,9.7) {S};
    \node at (axis cs:1285,9.7) {D\textsubscript{l}};
    \node at (axis cs:1379,9.7) {D\textsubscript{r}};
    \node at (axis cs:1472,13.8) {G\textsubscript{v}};
    \node at (axis cs:1531,18.8) {G\textsubscript{l}};
    \node at (axis cs:1589,59) {G};
    \node at (axis cs:1645,32.9) {G\textsubscript{r}};
  \end{scope}
\end{axis}

% zoom frames and connectors
\begin{scope}[yellowc, line width=0.8pt]
  \draw (114.6pt,362pt) rectangle (186.9pt,621.7pt);
  \draw (114.6pt,362pt) -- (23pt,300.3pt);
  \draw (186.9pt,362pt) -- (342.7pt,299.3pt);
  \draw (495.3pt,360.3pt) rectangle (576.5pt,625.3pt);
  \draw (495.3pt,360.3pt) -- (389.3pt,299pt);
  \draw (576.5pt,360.3pt) -- (748.7pt,297.7pt);
\end{scope}

% sample names
\node[font=\titfont] at (283pt,604pt) {MWCNT-NH-C6};
\node[font=\titfont] at (680pt,607pt) {MWCNTs};

% axis titles
\node[font=\labfont, rotate=90] at (6pt,503.5pt) {Intensity (arb. units)};
\node[font=\labfont, rotate=90] at (372pt,503.5pt) {Intensity (arb. units)};
\node[font=\labfont, rotate=90] at (6pt,180.3pt) {Intensity (arb. units)};
\node[font=\labfont, rotate=90] at (372pt,180.3pt) {Intensity (arb. units)};
\node[font=\labfont] at (194pt,336.3pt) {Raman shift (cm\textsuperscript{−1})};
\node[font=\labfont] at (579.5pt,333.7pt) {Raman shift (cm\textsuperscript{−1})};
\node[font=\labfont] at (194pt,7pt) {Raman shift (cm\textsuperscript{−1})};
\node[font=\labfont] at (579.5pt,5.3pt) {Raman shift (cm\textsuperscript{−1})};
\end{tikzpicture}
\end{document}
